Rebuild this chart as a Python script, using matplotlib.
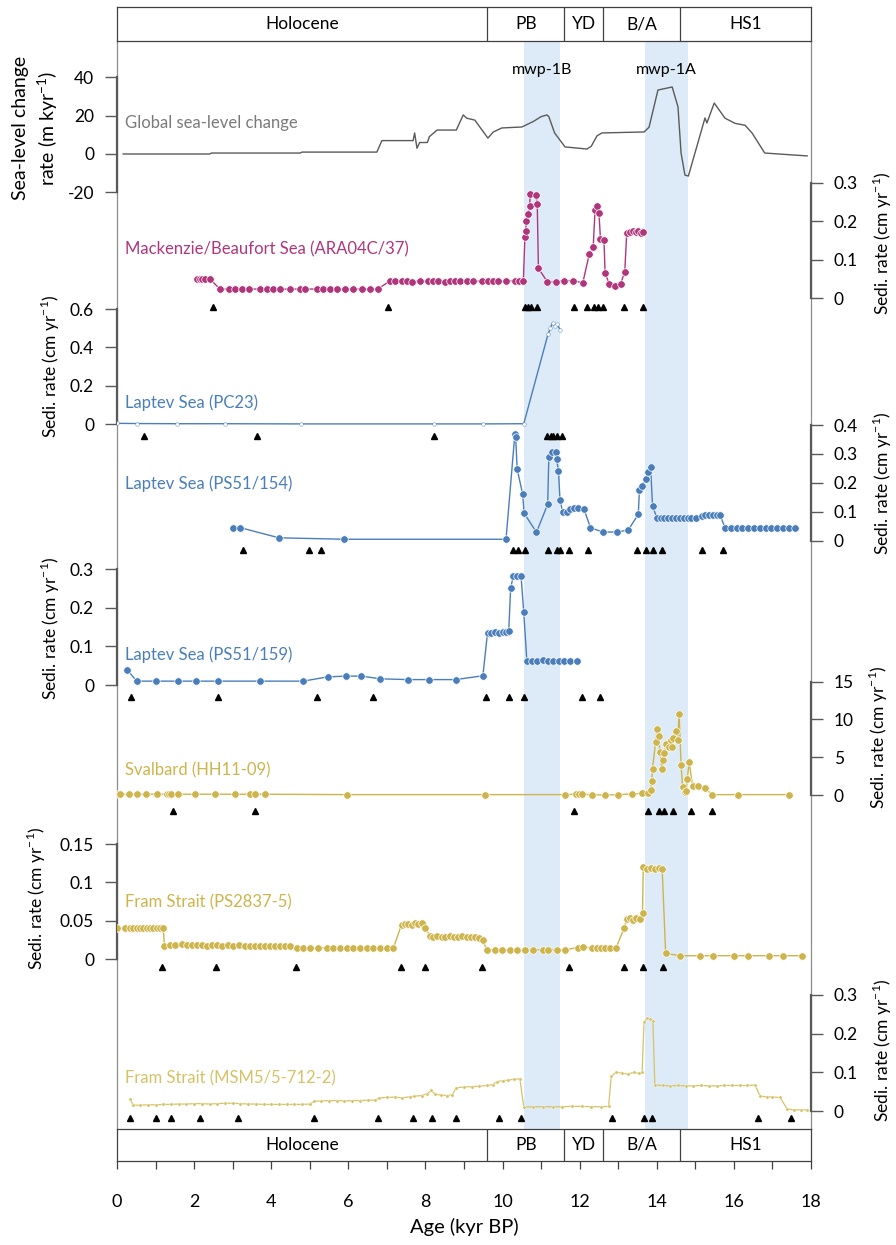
#!/usr/bin/env python3
"""Sea-level change rate and sedimentation rates in Arctic cores, 0-18 kyr BP."""

import matplotlib
matplotlib.use("Agg")
import matplotlib.pyplot as plt
from matplotlib.ticker import MultipleLocator

plt.rcParams["font.family"] = ["Lato", "DejaVu Sans"]
plt.rcParams["mathtext.fontset"] = "custom"
plt.rcParams["mathtext.rm"] = "Lato"

# ---------------- data (age in kyr BP) ----------------
periods = ["Holocene", "PB", "YD", "B/A", "HS1"]
period_edges = [0.0, 9.6, 11.6, 12.6, 14.6, 18.0]
mwp_names = ["mwp-1B", "mwp-1A"]
mwp_spans = [(10.55, 11.5), (13.7, 14.8)]

sea_age = [0.16, 2.4, 2.45, 4.75, 4.8, 6.74, 6.87, 7.68, 7.72, 7.78, 7.85, 8.05, 8.1,
           8.3, 8.8, 8.98, 9.07, 9.28, 9.62, 9.76, 9.98, 10.5, 10.8, 11.0, 11.15, 11.2,
           11.35, 11.62, 12.19, 12.3, 12.45, 12.58, 13.67, 13.8, 14.03, 14.4, 14.55, 14.63,
           14.73, 14.82, 15.25, 15.3, 15.49, 15.77, 16.03, 16.29, 16.47, 16.8, 17.9]
sea_rate = [0, 0, 0.5, 0.5, 1.0, 1.0, 7, 7, 11, 3, 6, 6, 9,
            12.5, 12.5, 20.4, 18.7, 17.7, 8.3, 11.5, 13.6, 14.1, 17.0, 19.5, 20.4, 19.5,
            11.0, 3.7, 2.6, 4.0, 9.5, 11.0, 11.5, 14.0, 33.4, 35.0, 24.6, 0.5,
            -11.0, -11.5, 18.8, 16.2, 26.6, 18.7, 16.0, 15.0, 11.0, 0.5, -1.0]

mack_age = [2.07, 2.14, 2.21, 2.28, 2.41, 2.67, 2.9, 3.06, 3.23, 3.42, 3.71, 3.88, 4.05,
            4.23, 4.49, 4.75, 4.88, 5.18, 5.35, 5.52, 5.7, 5.91, 6.13, 6.35, 6.56, 6.76,
            7.08, 7.21, 7.38, 7.51, 7.64, 7.86, 8.07, 8.2, 8.33, 8.51, 8.64, 8.77, 8.9,
            9.07, 9.24, 9.46, 9.63, 9.76, 9.89, 10.1, 10.32, 10.43, 10.54, 10.58, 10.6,
            10.62, 10.66, 10.7, 10.72, 10.87, 10.9, 10.93, 11.16, 11.38, 11.6, 11.82,
            12.08, 12.25, 12.35, 12.4, 12.44, 12.5, 12.54, 12.63, 12.66, 12.77, 12.92,
            13.06, 13.17, 13.22, 13.3, 13.38, 13.45, 13.52, 13.58, 13.63]
mack_rate = [0.05, 0.05, 0.05, 0.05, 0.05, 0.024, 0.024, 0.024, 0.024, 0.024, 0.024,
             0.024, 0.024, 0.024, 0.024, 0.024, 0.024, 0.024, 0.024, 0.024, 0.024, 0.024,
             0.024, 0.024, 0.024, 0.024, 0.045, 0.046, 0.044, 0.045, 0.043, 0.045, 0.044,
             0.046, 0.045, 0.043, 0.045, 0.044, 0.046, 0.045, 0.044, 0.045, 0.046, 0.045,
             0.044, 0.045, 0.045, 0.045, 0.046, 0.16, 0.175, 0.2, 0.22, 0.24, 0.27, 0.268,
             0.244, 0.078, 0.043, 0.043, 0.046, 0.046, 0.04, 0.115, 0.132, 0.23, 0.24,
             0.222, 0.153, 0.151, 0.065, 0.037, 0.033, 0.037, 0.069, 0.169, 0.173, 0.175,
             0.172, 0.176, 0.17, 0.171]
mack_dates = [2.5, 7.04, 10.58, 10.66, 10.75, 10.9, 11.85, 12.2, 12.37, 12.48, 12.6,
              13.15, 13.63]

pc23_age = [0.0, 0.51, 1.56, 2.8, 4.78, 8.23, 9.49, 10.55, 11.18, 11.24, 11.3, 11.36,
            11.42, 11.5]
pc23_rate = [0.005, 0.004, 0.003, 0.003, 0.002, 0.002, 0.002, 0.003, 0.47, 0.5, 0.53,
             0.51, 0.52, 0.49]
pc23_dates = [0.71, 3.62, 8.22, 11.14, 11.25, 11.32, 11.42, 11.55]

ps154_age = [3.0, 3.2, 4.2, 5.9, 10.09, 10.32, 10.34, 10.38, 10.52, 10.56, 10.88, 11.17,
             11.2, 11.27, 11.38, 11.4, 11.45, 11.49, 11.56, 11.66, 11.75, 11.85, 11.96,
             12.11, 12.28, 12.6, 12.98, 13.26, 13.52, 13.55, 13.62, 13.71, 13.78, 13.84,
             13.89, 14.0, 14.1, 14.2, 14.3, 14.4, 14.5, 14.6, 14.7, 14.8, 14.9, 15.03,
             15.16, 15.25, 15.35, 15.45, 15.55, 15.64, 15.77, 15.92, 16.07, 16.22, 16.37,
             16.52, 16.67, 16.82, 16.97, 17.12, 17.27, 17.42, 17.58]
ps154_rate = [0.045, 0.045, 0.01, 0.005, 0.005, 0.37, 0.358, 0.247, 0.162, 0.095, 0.029,
              0.126, 0.289, 0.308, 0.308, 0.283, 0.242, 0.141, 0.098, 0.1, 0.11, 0.114,
              0.112, 0.11, 0.045, 0.03, 0.03, 0.037, 0.091, 0.175, 0.19, 0.212, 0.239,
              0.254, 0.12, 0.08, 0.08, 0.08, 0.08, 0.08, 0.08, 0.08, 0.08, 0.08, 0.08,
              0.08, 0.087, 0.089, 0.09, 0.09, 0.09, 0.089, 0.045, 0.045, 0.045, 0.045,
              0.045, 0.045, 0.045, 0.045, 0.045, 0.045, 0.045, 0.045, 0.045]
ps154_dates = [3.27, 4.98, 5.3, 10.28, 10.41, 10.58, 11.18, 11.4, 11.49, 11.73, 12.21,
               13.49, 13.72, 13.89, 14.13, 15.16, 15.72]

ps159_age = [0.27, 0.51, 1.02, 1.57, 2.04, 2.63, 3.72, 4.83, 5.46, 5.93, 6.34, 6.83, 7.56,
             8.08, 8.79, 9.49, 9.61, 9.7, 9.8, 9.9, 10.0, 10.08, 10.16, 10.21, 10.28, 10.38,
             10.48, 10.55, 10.63, 10.77, 10.9, 11.04, 11.18, 11.32, 11.46, 11.6, 11.76,
             11.94]
ps159_rate = [0.039, 0.01, 0.01, 0.01, 0.01, 0.01, 0.01, 0.01, 0.021, 0.023, 0.023, 0.016,
              0.014, 0.014, 0.014, 0.024, 0.135, 0.136, 0.137, 0.136, 0.137, 0.138, 0.139,
              0.252, 0.282, 0.282, 0.282, 0.188, 0.063, 0.063, 0.063, 0.064, 0.063, 0.063,
              0.062, 0.063, 0.063, 0.063]
ps159_dates = [0.37, 2.63, 5.19, 6.65, 9.56, 10.18, 10.55, 12.07, 12.52]

sval_age = [0.0, 0.07, 0.31, 0.52, 0.76, 1.04, 1.29, 1.34, 1.39, 1.59, 2.03, 2.55, 3.06,
            3.45, 3.57, 3.84, 5.96, 9.55, 11.62, 11.9, 11.97, 12.07, 12.32, 12.66, 13.0,
            13.36, 13.62, 13.78, 13.84, 13.87, 13.89, 13.97, 14.01, 14.05, 14.08, 14.13,
            14.17, 14.19, 14.25, 14.31, 14.36, 14.39, 14.43, 14.49, 14.54, 14.58, 14.63,
            14.67, 14.73, 14.76, 14.79, 14.84, 14.93, 15.06, 15.25, 15.44, 16.1, 17.44]
sval_rate = [0.1, 0.1, 0.1, 0.1, 0.1, 0.1, 0.1, 0.1, 0.1, 0.1, 0.1, 0.1, 0.1,
             0.1, 0.1, 0.1, 0.05, 0.05, 0.05, 0.1, 0.1, 0.1, 0.05, 0.0, 0.05,
             0.13, 0.22, 0.2, 0.6, 1.9, 3.5, 7.05, 8.7, 7.85, 5.7, 3.5,
             4.6, 5.6, 6.7, 6.4, 7.3, 6.3, 7.6, 8.5, 7.3, 10.7, 4.0,
             1.0, 0.45, 0.5, 2.1, 4.3, 1.2, 1.2, 0.9, 0.05, 0.05, 0.05]
sval_dates = [1.44, 3.59, 11.85, 13.78, 14.06, 14.19, 14.41, 14.89, 15.42]

ps2837_age = [0.0, 0.21, 0.34, 0.42, 0.51, 0.6, 0.68, 0.77, 0.86, 0.94, 1.03, 1.12, 1.2,
              1.23, 1.37, 1.5, 1.68, 1.81, 1.94, 2.07, 2.2, 2.33, 2.46, 2.59, 2.72, 2.89,
              3.02, 3.17, 3.32, 3.45, 3.58, 3.71, 3.84, 3.97, 4.1, 4.23, 4.36, 4.49, 4.66,
              4.83, 5.01, 5.22, 5.44, 5.61, 5.78, 5.96, 6.13, 6.3, 6.48, 6.65, 6.82, 6.99,
              7.17, 7.38, 7.47, 7.55, 7.64, 7.73, 7.81, 7.9, 7.99, 8.12, 8.2, 8.31, 8.42,
              8.52, 8.64, 8.74, 8.85, 8.96, 9.07, 9.17, 9.28, 9.39, 9.48, 9.59, 9.8, 9.98,
              10.19, 10.37, 10.58, 10.8, 11.06, 11.19, 11.4, 11.62, 11.96, 12.09, 12.33,
              12.44, 12.55, 12.66, 12.79, 12.94, 13.15, 13.22, 13.3, 13.38, 13.45, 13.56,
              13.63, 13.65, 13.75, 13.85, 13.95, 14.05, 14.14, 14.23, 14.6, 15.12, 15.47,
              16.0, 16.37, 16.92, 17.28, 17.76]
ps2837_rate = [0.04, 0.04, 0.04, 0.04, 0.04, 0.04, 0.04, 0.04, 0.04, 0.04, 0.04, 0.04,
               0.04, 0.0175, 0.0185, 0.018, 0.019, 0.0185, 0.018, 0.0185, 0.018, 0.0175,
               0.018, 0.0185, 0.0175, 0.018, 0.0175, 0.018, 0.017, 0.0175, 0.017, 0.0175,
               0.017, 0.0175, 0.017, 0.017, 0.0165, 0.017, 0.0145, 0.015, 0.0145, 0.0145,
               0.015, 0.0145, 0.0145, 0.0145, 0.0145, 0.0145, 0.0145, 0.0145, 0.0145,
               0.0145, 0.0145, 0.045, 0.046, 0.046, 0.045, 0.047, 0.046, 0.047, 0.041,
               0.03, 0.029, 0.03, 0.029, 0.029, 0.03, 0.029, 0.029, 0.03, 0.029, 0.029,
               0.029, 0.028, 0.025, 0.012, 0.012, 0.012, 0.012, 0.012, 0.012, 0.012, 0.012,
               0.012, 0.012, 0.012, 0.015, 0.016, 0.014, 0.014, 0.014, 0.014, 0.014, 0.014,
               0.04, 0.052, 0.053, 0.051, 0.053, 0.052, 0.06, 0.12, 0.118, 0.119, 0.118,
               0.119, 0.118, 0.0074, 0.0043, 0.0043, 0.0043, 0.0043, 0.0043, 0.0043, 0.0043,
               0.0043]
ps2837_dates = [1.16, 2.57, 4.63, 7.37, 8.0, 9.46, 11.72, 13.15, 13.65, 14.15]

msm_age = [0.34, 0.42, 0.6, 0.8, 1.0, 1.2, 1.4, 1.6, 1.8, 2.0, 2.2, 2.4, 2.6, 2.8, 3.0,
           3.2, 3.4, 3.6, 3.8, 4.0, 4.2, 4.4, 4.6, 4.8, 5.0, 5.12, 5.3, 5.5, 5.7, 5.9,
           6.1, 6.3, 6.5, 6.7, 6.8, 7.0, 7.2, 7.4, 7.6, 7.7, 7.9, 8.05, 8.15, 8.25, 8.4,
           8.55, 8.7, 8.8, 9.0, 9.2, 9.4, 9.6, 9.75, 9.85, 10.0, 10.15, 10.3, 10.45,
           10.55, 10.8, 11.05, 11.3, 11.55, 11.8, 12.05, 12.3, 12.55, 12.75, 12.82, 12.95,
           13.1, 13.25, 13.4, 13.55, 13.62, 13.67, 13.75, 13.83, 13.9, 13.95, 14.15,
           14.35, 14.55, 14.75, 14.95, 15.15, 15.35, 15.55, 15.75, 15.95, 16.15, 16.35,
           16.55, 16.68, 16.85, 17.0, 17.2, 17.38, 17.55, 17.75, 17.9]
msm_rate = [0.03, 0.015, 0.015, 0.016, 0.016, 0.017, 0.017, 0.018, 0.018, 0.019, 0.019,
            0.018, 0.019, 0.02, 0.02, 0.019, 0.018, 0.018, 0.017, 0.017, 0.017, 0.017,
            0.017, 0.017, 0.018, 0.025, 0.026, 0.027, 0.027, 0.026, 0.027, 0.027, 0.028,
            0.028, 0.034, 0.035, 0.036, 0.034, 0.037, 0.038, 0.04, 0.045, 0.053, 0.044,
            0.041, 0.04, 0.042, 0.06, 0.062, 0.063, 0.064, 0.066, 0.068, 0.076, 0.078,
            0.08, 0.082, 0.083, 0.01, 0.011, 0.011, 0.011, 0.011, 0.012, 0.012, 0.011,
            0.011, 0.012, 0.09, 0.1, 0.098, 0.095, 0.1, 0.097, 0.1, 0.23, 0.24, 0.238,
            0.232, 0.067, 0.066, 0.065, 0.066, 0.065, 0.065, 0.066, 0.065, 0.065, 0.066,
            0.066, 0.066, 0.066, 0.067, 0.038, 0.037, 0.036, 0.035, 0.005, 0.003, 0.003,
            0.003]
msm_dates = [0.34, 1.0, 1.41, 2.14, 3.15, 5.1, 6.78, 7.67, 8.17, 8.79, 9.92, 10.48,
             12.84, 13.68, 13.87, 16.62, 17.49]

# ---------------- layout (pixels of the 896 x 1245 figure) ----------------
W, H, DPI = 896, 1245, 100
X0, X1 = 117, 811
TOP, BOT = 41, 1129

GREY, MAG, BLUE, GOLD, GOLD2 = "#5a5a5a", "#B0367C", "#4A7EBB", "#CDB54C", "#D6C266"
SHADE = "#DDEBF8"

fig = plt.figure(figsize=(W / DPI, H / DPI), dpi=DPI)


def px_axes(y0, y1):
    return fig.add_axes([X0 / W, 1 - y1 / H, (X1 - X0) / W, (y1 - y0) / H])


def px_text(x, y, s, **kw):
    fig.text(x / W, 1 - y / H, s, **kw)


# background frame + meltwater pulse bands
bg = px_axes(TOP, BOT)
bg.set_xlim(0, 18)
bg.set_ylim(0, 1)
for lo, hi in mwp_spans:
    bg.axvspan(lo, hi, color=SHADE, lw=0, zorder=0)
for s in ["top", "bottom"]:
    bg.spines[s].set_visible(False)
for s in ["left", "right"]:
    bg.spines[s].set_color("#8c8c8c")
    bg.spines[s].set_linewidth(0.9)
bg.set_xticks([])
bg.set_yticks([])
for name, (lo, hi) in zip(mwp_names, mwp_spans):
    bg.text((lo + hi) / 2, 1 - (70 - TOP) / (BOT - TOP), name, ha="center", va="center",
            fontsize=11.5, color="black")


def period_bar(y0, y1):
    ax = px_axes(y0, y1)
    ax.set_xlim(0, 18)
    ax.set_ylim(0, 1)
    ax.set_yticks([])
    for e in period_edges[1:-1]:
        ax.axvline(e, color="#404040", lw=0.9)
    for name, lo, hi in zip(periods, period_edges[:-1], period_edges[1:]):
        ax.text((lo + hi) / 2, 0.5, name, ha="center", va="center", fontsize=12.5)
    for s in ax.spines.values():
        s.set_color("#404040")
        s.set_linewidth(0.9)
    return ax


top_bar = period_bar(7, TOP)
top_bar.set_xticks([])
bot_bar = period_bar(BOT, 1161)
bot_bar.xaxis.set_major_locator(MultipleLocator(2))
bot_bar.xaxis.set_minor_locator(MultipleLocator(1))
bot_bar.tick_params(axis="x", which="both", direction="out", length=6, width=0.9,
                    color="#404040", labelsize=13, pad=18)
px_text((X0 + X1) / 2, 1227, "Age (kyr BP)", ha="center", va="center", fontsize=14.5)


def panel(zero_px, ppu, side, ticks, labels):
    ax = px_axes(TOP, BOT)
    ax.set_facecolor("none")
    ax.set_xlim(0, 18)
    ax.set_ylim(-(BOT - zero_px) / ppu, (zero_px - TOP) / ppu)
    for s in ax.spines.values():
        s.set_visible(False)
    ax.spines[side].set_visible(True)
    ax.spines[side].set_bounds(ticks[0], ticks[-1])
    ax.spines[side].set_color("#595959")
    ax.spines[side].set_linewidth(1.6)
    ax.set_xticks([])
    ax.set_yticks(ticks, labels)
    if side == "right":
        ax.yaxis.tick_right()
    ax.tick_params(axis="y", direction="out", length=8.5, width=1.0, color="#595959",
                   labelsize=12.5, pad=8)
    return ax


def series(ax, age, val, color, ms=5.4, lw=1.0):
    ax.plot(age, val, color=color, lw=lw, marker="o", ms=ms, mfc=color, mec="white",
            mew=0.5, zorder=3)


def dates(ax, ages, px_below, ppu):
    ax.plot(ages, [-px_below / ppu] * len(ages), ls="none", marker="^", ms=4.6,
            color="black", zorder=4)


# global sea level
ax = panel(154, 1.915, "left", [-20, 0, 20, 40], ["-20", "0", "20", "40"])
ax.plot(sea_age, sea_rate, color=GREY, lw=1.0, zorder=3)
px_text(125, 123, "Global sea-level change", ha="left", va="center", fontsize=12,
        color="#7a7a7a")
px_text(36, 128, "Sea-level change\nrate (m kyr$^{-1}$)", rotation=90, ha="center",
        va="center", fontsize=14, multialignment="center", linespacing=1.3)

# Mackenzie / Beaufort Sea
ppu = 385
ax = panel(298.3, ppu, "right", [0, 0.1, 0.2, 0.3], ["0", "0.1", "0.2", "0.3"])
series(ax, mack_age, mack_rate, MAG)
dates(ax, mack_dates, 9, ppu)
px_text(125, 249, "Mackenzie/Beaufort Sea (ARA04C/37)", ha="left", va="center",
        fontsize=12, color=MAG)
px_text(882, 243, "Sedi. rate (cm yr$^{-1}$)", rotation=90, ha="center", va="center",
        fontsize=12.5)

# Laptev Sea PC23
ppu = 192
ax = panel(424.3, ppu, "left", [0, 0.2, 0.4, 0.6], ["0", "0.2", "0.4", "0.6"])
ax.plot(pc23_age, pc23_rate, color=BLUE, lw=1.0, marker="o", ms=2.6, mfc="white",
        mec=BLUE, mew=0.3, zorder=3)
dates(ax, pc23_dates, 12, ppu)
px_text(125, 403, "Laptev Sea (PC23)", ha="left", va="center", fontsize=12, color=BLUE)
px_text(50, 366, "Sedi. rate (cm yr$^{-1}$)", rotation=90, ha="center", va="center",
        fontsize=12.5)

# Laptev Sea PS51/154
ppu = 289
ax = panel(540.7, ppu, "right", [0, 0.1, 0.2, 0.3, 0.4],
           ["0", "0.1", "0.2", "0.3", "0.4"])
series(ax, ps154_age, ps154_rate, BLUE)
dates(ax, ps154_dates, 9.5, ppu)
px_text(125, 484, "Laptev Sea (PS51/154)", ha="left", va="center", fontsize=12,
        color=BLUE)
px_text(882, 483, "Sedi. rate (cm yr$^{-1}$)", rotation=90, ha="center", va="center",
        fontsize=12.5)

# Laptev Sea PS51/159
ppu = 386
ax = panel(685, ppu, "left", [0, 0.1, 0.2, 0.3], ["0", "0.1", "0.2", "0.3"])
series(ax, ps159_age, ps159_rate, BLUE)
dates(ax, ps159_dates, 12, ppu)
px_text(125, 655, "Laptev Sea (PS51/159)", ha="left", va="center", fontsize=12,
        color=BLUE)
px_text(50, 628, "Sedi. rate (cm yr$^{-1}$)", rotation=90, ha="center", va="center",
        fontsize=12.5)

# Svalbard HH11-09
ppu = 7.56
ax = panel(795, ppu, "right", [0, 5, 10, 15], ["0", "5", "10", "15"])
series(ax, sval_age, sval_rate, GOLD)
dates(ax, sval_dates, 16, ppu)
px_text(125, 770, "Svalbard (HH11-09)", ha="left", va="center", fontsize=12, color=GOLD)
px_text(878, 737, "Sedi. rate (cm yr$^{-1}$)", rotation=90, ha="center", va="center",
        fontsize=12.5)

# Fram Strait PS2837-5
ppu = 766
ax = panel(959, ppu, "left", [0, 0.05, 0.1, 0.15], ["0", "0.05", "0.1", "0.15"])
series(ax, ps2837_age, ps2837_rate, GOLD)
dates(ax, ps2837_dates, 8, ppu)
px_text(125, 902, "Fram Strait (PS2837-5)", ha="left", va="center", fontsize=12,
        color=GOLD)
px_text(36, 898, "Sedi. rate (cm yr$^{-1}$)", rotation=90, ha="center", va="center",
        fontsize=12.5)

# Fram Strait MSM5/5-712-2
ppu = 387
ax = panel(1111, ppu, "right", [0, 0.1, 0.2, 0.3], ["0", "0.1", "0.2", "0.3"])
ax.plot(msm_age, msm_rate, color=GOLD2, lw=0.9, marker="o", ms=2.4, mfc=GOLD2,
        mec="white", mew=0.3, zorder=3)
dates(ax, msm_dates, 7, ppu)
px_text(125, 1078, "Fram Strait (MSM5/5-712-2)", ha="left", va="center", fontsize=12,
        color=GOLD2)
px_text(882, 1050, "Sedi. rate (cm yr$^{-1}$)", rotation=90, ha="center", va="center",
        fontsize=12.5)

fig.savefig("out.png", dpi=DPI)
